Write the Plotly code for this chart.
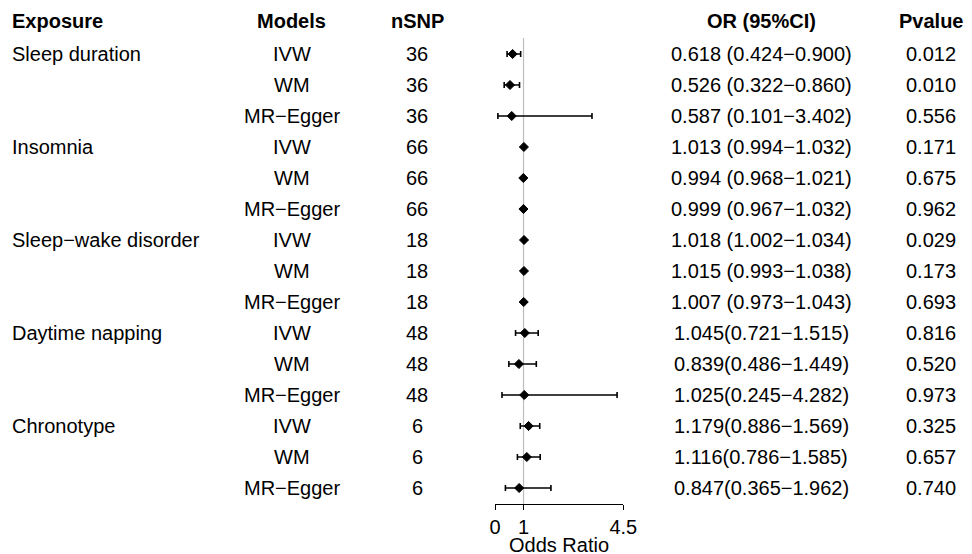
import plotly.graph_objects as go

exposures = ["Sleep duration", "Insomnia", "Sleep\u2212wake disorder", "Daytime napping", "Chronotype"]
models = ["IVW", "WM", "MR\u2212Egger"]
nsnp = [36, 36, 36, 66, 66, 66, 18, 18, 18, 48, 48, 48, 6, 6, 6]
or_val = [0.618, 0.526, 0.587, 1.013, 0.994, 0.999, 1.018, 1.015, 1.007,
          1.045, 0.839, 1.025, 1.179, 1.116, 0.847]
ci_low = [0.424, 0.322, 0.101, 0.994, 0.968, 0.967, 1.002, 0.993, 0.973,
          0.721, 0.486, 0.245, 0.886, 0.786, 0.365]
ci_high = [0.900, 0.860, 3.402, 1.032, 1.021, 1.032, 1.034, 1.038, 1.043,
           1.515, 1.449, 4.282, 1.569, 1.585, 1.962]
or_text = ["0.618 (0.424\u22120.900)", "0.526 (0.322\u22120.860)", "0.587 (0.101\u22123.402)",
           "1.013 (0.994\u22121.032)", "0.994 (0.968\u22121.021)", "0.999 (0.967\u22121.032)",
           "1.018 (1.002\u22121.034)", "1.015 (0.993\u22121.038)", "1.007 (0.973\u22121.043)",
           "1.045(0.721\u22121.515)", "0.839(0.486\u22121.449)", "1.025(0.245\u22124.282)",
           "1.179(0.886\u22121.569)", "1.116(0.786\u22121.585)", "0.847(0.365\u22121.962)"]
pvalues = ["0.012", "0.010", "0.556", "0.171", "0.675", "0.962", "0.029", "0.173", "0.693",
           "0.816", "0.520", "0.973", "0.325", "0.657", "0.740"]
headers = ["Exposure", "Models", "nSNP", "OR (95%CI)", "Pvalue"]
x_ticks = [0, 1, 4.5]

W, H = 972, 554
FONT = "Liberation Sans, Arial, sans-serif"
rows = list(range(len(or_val)))
model_col = [models[i % 3] for i in rows]

# pixel layout helpers
row0_px, row_step = 54, 31
axis_px = 504
y_top = -row0_px / row_step
y_bot = y_top + axis_px / row_step
header_y = (21 - row0_px) / row_step

fig = go.Figure()
fig.add_trace(go.Scatter(
    x=or_val, y=rows, mode="markers",
    marker=dict(symbol="diamond", size=7, color="black", line=dict(width=1, color="black")),
    error_x=dict(type="data", symmetric=False,
                 array=[h - o for h, o in zip(ci_high, or_val)],
                 arrayminus=[o - l for o, l in zip(or_val, ci_low)],
                 color="black", thickness=1.6, width=3),
    showlegend=False, hoverinfo="skip",
))

fig.add_shape(type="line", xref="x", yref="y", x0=1, x1=1, y0=-0.52, y1=y_bot,
              line=dict(color="#bdbdbd", width=1.2), layer="below")

cols_x = {"exp": 9.5, "mod": 291.5, "nsnp": 417, "or": 761, "p": 931}

def ann(text, xpx, y, anchor="center", bold=False):
    fig.add_annotation(text=f"<b>{text}</b>" if bold else text, x=xpx / W, xref="paper",
                       y=y, yref="y", xanchor=anchor, yanchor="middle", showarrow=False,
                       font=dict(family=FONT, size=20, color="black"))

ann(headers[0], cols_x["exp"], header_y, "left", True)
ann(headers[1], cols_x["mod"], header_y, bold=True)
ann(headers[2], cols_x["nsnp"], header_y, bold=True)
ann(headers[3], cols_x["or"], header_y, bold=True)
ann(headers[4], cols_x["p"], header_y, bold=True)

for k, e in enumerate(exposures):
    ann(e, cols_x["exp"], k * 3, "left")
for i in rows:
    ann(model_col[i], cols_x["mod"], i)
    ann(str(nsnp[i]), cols_x["nsnp"], i)
    ann(or_text[i], cols_x["or"], i)
    ann(pvalues[i], cols_x["p"], i)

fig.update_layout(
    width=W, height=H, margin=dict(l=0, r=0, t=0, b=0, autoexpand=False),
    plot_bgcolor="white", paper_bgcolor="white",
    xaxis=dict(domain=[495 / W, 623.3 / W], range=[0, 4.5], tickvals=x_ticks,
               ticktext=[str(t) for t in x_ticks], showgrid=False, zeroline=False,
               showline=True, linecolor="black", linewidth=1.3, ticks="outside",
               ticklen=5, tickwidth=1.3, tickcolor="black", automargin=False,
               tickfont=dict(family=FONT, size=20, color="black")),
    yaxis=dict(domain=[(H - axis_px) / H, 1], range=[y_bot, y_top], visible=False,
               showgrid=False, zeroline=False, automargin=False),
)
fig.add_annotation(text="Odds Ratio", x=(495 + 623.3) / 2 / W, xref="paper", y=0, yref="paper",
                   xanchor="center", yanchor="bottom", yshift=-4, showarrow=False,
                   font=dict(family=FONT, size=20, color="black"))

fig.write_html("out.html", config={"displayModeBar": False},
               post_script="document.body.style.margin='0';document.body.style.overflow='hidden';")
